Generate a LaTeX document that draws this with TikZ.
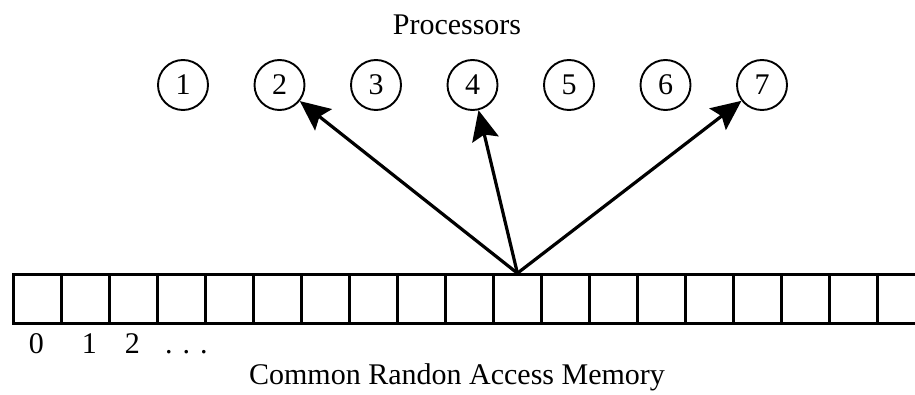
\documentclass[tikz,border=0pt]{standalone}
\usepackage{fontspec}
\setmainfont{Liberation Serif}
\usepackage{tikz}
\usetikzlibrary{arrows.meta, positioning}

\tikzset{
    proc/.style={circle, draw, line width=1.9pt, minimum size=50pt, inner sep=0pt},
    cell/.style={rectangle, draw, line width=2.8pt, minimum width=48pt, minimum height=49pt, inner sep=0pt, anchor=south west},
    addr/.style={below=28pt of #1.south, anchor=base},
    access/.style={line width=3.2pt, -{Stealth[length=30pt, width=27pt, inset=5pt]}}
}

\begin{document}
\begin{tikzpicture}[x=1pt, y=1pt, font=\fontsize{30}{36}\selectfont]
    \useasboundingbox (0,0) rectangle (915,394);
    \clip (0,0) rectangle (915,394);

    % 处理器
    \node (title) at (457,369) {Processors};
    \foreach \i in {1,...,7}
        \node[proc] (p\i) at ({183+96.5*(\i-1)},309) {\i};

    % 共享存储
    \foreach \k in {0,...,18}
        \node[cell] (c\k) at ({12+48*\k},69) {};

    \node[addr=c0, xshift=-1pt] (a0) {0};
    \node[addr=c1, xshift=4pt] (a1) {1};
    \node[addr=c2, xshift=-1pt] (a2) {2};
    \node[addr=c3, xshift=5pt] (dots) {. . .};
    \node (mem) at (457,17) {Common Randon Access Memory};

    % 访问
    \draw[access] (c10.north) -- (p2);
    \draw[access] (c10.north) -- (p4);
    \draw[access] (c10.north) -- (p7);
\end{tikzpicture}
\end{document}
